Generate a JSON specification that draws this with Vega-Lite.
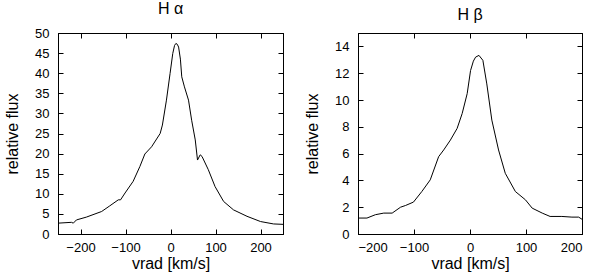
{
  "$schema": "https://vega.github.io/schema/vega-lite/v6.json",
  "padding": {"left": 4, "top": 0, "right": 5, "bottom": 0},
  "background": "white",
  "spacing": 18,
  "config": {
    "view": {"stroke": "black", "strokeWidth": 1},
    "font": "Liberation Sans",
    "axis": {
      "grid": false,
      "labelFont": "Liberation Sans",
      "titleFont": "Liberation Sans",
      "labelFontSize": 13,
      "titleFontSize": 16,
      "titleFontWeight": "normal",
      "labelColor": "black",
      "titleColor": "black",
      "domainColor": "black",
      "tickColor": "black",
      "tickSize": -5,
      "labelPadding": 14
    },
    "axisX": {"labelPadding": 12, "titlePadding": 1},
    "title": {"font": "Liberation Sans", "fontSize": 16, "fontWeight": "normal", "color": "black"}
  },
  "datasets": {
    "ha": [
      {"v": -250, "f": 2.7}, {"v": -220, "f": 2.9}, {"v": -216, "f": 2.7}, {"v": -209, "f": 3.5},
      {"v": -187, "f": 4.2}, {"v": -153, "f": 5.6}, {"v": -135, "f": 7.0}, {"v": -116, "f": 8.5},
      {"v": -111, "f": 8.5}, {"v": -101, "f": 10.2}, {"v": -83, "f": 13.1}, {"v": -68, "f": 16.8},
      {"v": -57, "f": 19.9}, {"v": -42, "f": 21.7}, {"v": -23, "f": 25.0}, {"v": -18, "f": 27.1},
      {"v": -9, "f": 33.3}, {"v": -1, "f": 39.9}, {"v": 5, "f": 44.9}, {"v": 9, "f": 46.9},
      {"v": 12, "f": 47.4}, {"v": 15, "f": 47.2}, {"v": 18, "f": 46.5}, {"v": 22, "f": 43.5},
      {"v": 25, "f": 39.1}, {"v": 31, "f": 36.6}, {"v": 40, "f": 33.3}, {"v": 47, "f": 28.3},
      {"v": 55, "f": 23.4}, {"v": 60, "f": 18.4}, {"v": 66, "f": 19.7}, {"v": 70, "f": 19.3},
      {"v": 84, "f": 16.0}, {"v": 99, "f": 11.8}, {"v": 118, "f": 8.1}, {"v": 140, "f": 6.0},
      {"v": 170, "f": 4.4}, {"v": 200, "f": 3.1}, {"v": 229, "f": 2.5}, {"v": 250, "f": 2.4}
    ],
    "hb": [
      {"v": -200, "f": 1.19}, {"v": -184, "f": 1.19}, {"v": -169, "f": 1.44}, {"v": -154, "f": 1.56},
      {"v": -139, "f": 1.56}, {"v": -124, "f": 2.0}, {"v": -115, "f": 2.13}, {"v": -101, "f": 2.38},
      {"v": -86, "f": 3.17}, {"v": -71, "f": 4.04}, {"v": -56, "f": 5.77}, {"v": -47, "f": 6.27},
      {"v": -35, "f": 7.01}, {"v": -23, "f": 7.88}, {"v": -14, "f": 8.99}, {"v": -5, "f": 10.48},
      {"v": 1, "f": 12.2}, {"v": 6, "f": 12.9}, {"v": 10, "f": 13.2}, {"v": 16, "f": 13.33},
      {"v": 23, "f": 12.96}, {"v": 30, "f": 11.2}, {"v": 39, "f": 8.5}, {"v": 51, "f": 6.27},
      {"v": 63, "f": 4.53}, {"v": 81, "f": 3.17}, {"v": 99, "f": 2.55}, {"v": 111, "f": 1.93},
      {"v": 129, "f": 1.56}, {"v": 143, "f": 1.31}, {"v": 164, "f": 1.31}, {"v": 182, "f": 1.26},
      {"v": 194, "f": 1.26}, {"v": 200, "f": 1.1}
    ]
  },
  "hconcat": [
    {
      "width": 225,
      "height": 201,
      "title": {"text": "H α", "offset": 10},
      "data": {"name": "ha"},
      "resolve": {"axis": {"x": "independent", "y": "independent"}},
      "layer": [
        {
          "mark": {"type": "line", "color": "black", "strokeWidth": 1},
          "encoding": {
            "x": {"field": "v", "type": "quantitative", "scale": {"domain": [-250, 250], "nice": false},
                  "axis": {"values": [-200, -100, 0, 100, 200], "title": "vrad [km/s]"}},
            "y": {"field": "f", "type": "quantitative", "scale": {"domain": [0, 50], "nice": false},
                  "axis": {"values": [0, 5, 10, 15, 20, 25, 30, 35, 40, 45, 50], "title": "relative flux", "titlePadding": 14}}
          }
        },
        {
          "mark": {"type": "line", "strokeOpacity": 0},
          "encoding": {
            "x": {"field": "v", "type": "quantitative",
                  "axis": {"orient": "top", "values": [-200, -100, 0, 100, 200], "labels": false, "title": null}},
            "y": {"field": "f", "type": "quantitative",
                  "axis": {"orient": "right", "values": [0, 5, 10, 15, 20, 25, 30, 35, 40, 45, 50], "labels": false, "title": null}}
          }
        }
      ]
    },
    {
      "width": 224,
      "height": 201,
      "title": {"text": "H β", "offset": 10},
      "data": {"name": "hb"},
      "resolve": {"axis": {"x": "independent", "y": "independent"}},
      "layer": [
        {
          "mark": {"type": "line", "color": "black", "strokeWidth": 1},
          "encoding": {
            "x": {"field": "v", "type": "quantitative", "scale": {"domain": [-200, 200], "nice": false},
                  "axis": {"values": [-200, -100, 0, 100, 200], "title": "vrad [km/s]"}},
            "y": {"field": "f", "type": "quantitative", "scale": {"domain": [0, 15], "nice": false},
                  "axis": {"values": [0, 2, 4, 6, 8, 10, 12, 14], "title": "relative flux", "titlePadding": 14}}
          }
        },
        {
          "mark": {"type": "line", "strokeOpacity": 0},
          "encoding": {
            "x": {"field": "v", "type": "quantitative",
                  "axis": {"orient": "top", "values": [-200, -100, 0, 100, 200], "labels": false, "title": null}},
            "y": {"field": "f", "type": "quantitative",
                  "axis": {"orient": "right", "values": [0, 2, 4, 6, 8, 10, 12, 14], "labels": false, "title": null}}
          }
        }
      ]
    }
  ]
}
